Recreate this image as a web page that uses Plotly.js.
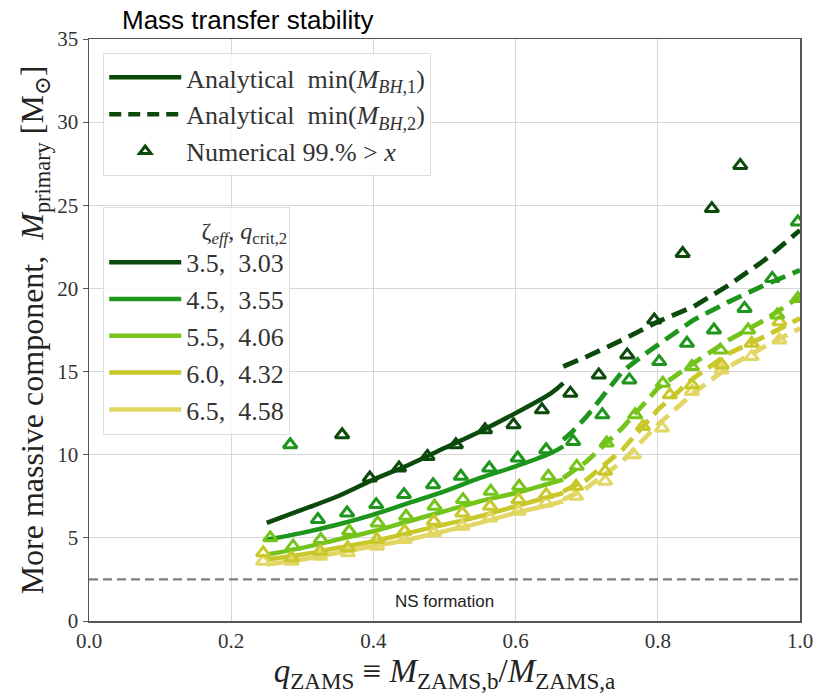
<!DOCTYPE html>
<html>
<head>
<meta charset="utf-8">
<script src="https://cdn.plot.ly/plotly-3.0.1.min.js"></script>
<style>html,body{margin:0;padding:0;background:#fff;}#chart{width:819px;height:694px;}</style>
</head>
<body>
<div id="chart"></div>
<script>
// ---- data ----
const seriesLabels = ["3.5,  3.03", "4.5,  3.55", "5.5,  4.06", "6.0,  4.32", "6.5,  4.58"];
const seriesColors = ["#0b4a0b", "#1e961e", "#74c41c", "#c8c82a", "#e2d664"];

// analytical min(M_BH,1) (solid)
const solidQ = [0.25, 0.30, 0.35, 0.40, 0.45, 0.50, 0.55, 0.60, 0.65, 0.667];
const solidM = [
  [5.9, 6.7, 7.5, 8.5, 9.4, 10.4, 11.4, 12.5, 13.7, 14.3],
  [4.9, 5.3, 5.8, 6.4, 7.1, 7.8, 8.6, 9.3, 10.1, 10.5],
  [4.0, 4.4, 4.9, 5.4, 6.0, 6.6, 7.2, 7.7, 8.3, 8.5],
  [3.7, 4.0, 4.4, 4.8, 5.3, 5.8, 6.3, 6.9, 7.5, 7.7],
  [3.4, 3.7, 4.1, 4.5, 4.9, 5.4, 5.9, 6.5, 7.0, 7.2]
];

// analytical min(M_BH,2) (dashed)
const dashQ = [
  [0.667, 0.70, 0.75, 0.80, 0.85, 0.90, 0.95, 1.00],
  [0.667, 0.68, 0.70, 0.72, 0.75, 0.78, 0.80, 0.85, 0.90, 0.95, 1.00],
  [0.667, 0.70, 0.75, 0.80, 0.85, 0.90, 0.95, 1.00],
  [0.667, 0.70, 0.75, 0.80, 0.85, 0.90, 0.95, 1.00],
  [0.667, 0.70, 0.75, 0.80, 0.85, 0.90, 0.95, 1.00]
];
const dashM = [
  [15.3, 15.9, 16.9, 18.0, 18.9, 20.2, 21.7, 23.5],
  [10.9, 11.4, 12.3, 13.4, 15.0, 16.0, 16.6, 18.1, 19.2, 20.2, 21.1],
  [8.6, 9.6, 11.6, 14.0, 15.5, 16.9, 18.1, 19.5],
  [7.8, 8.5, 10.3, 12.7, 14.6, 16.1, 17.1, 18.2],
  [7.3, 8.0, 9.6, 11.8, 13.7, 15.3, 16.5, 17.6]
];

// numerical 99% > x (triangles)
const numQ = [
  [0.356, 0.395, 0.436, 0.476, 0.516, 0.557, 0.597, 0.637, 0.677, 0.717, 0.757, 0.795, 0.835, 0.876, 0.916],
  [0.283, 0.322, 0.363, 0.404, 0.443, 0.484, 0.523, 0.563, 0.603, 0.643, 0.681, 0.722, 0.760, 0.802, 0.841, 0.879, 0.922, 0.961, 0.997],
  [0.255, 0.287, 0.326, 0.366, 0.406, 0.446, 0.486, 0.526, 0.565, 0.605, 0.646, 0.686, 0.728, 0.768, 0.807, 0.848, 0.888, 0.927, 0.968, 0.997],
  [0.245, 0.285, 0.325, 0.364, 0.405, 0.444, 0.485, 0.525, 0.564, 0.604, 0.643, 0.685, 0.726, 0.779, 0.817, 0.848, 0.890, 0.932, 0.971],
  [0.245, 0.285, 0.325, 0.364, 0.405, 0.444, 0.485, 0.525, 0.564, 0.604, 0.643, 0.685, 0.726, 0.766, 0.806, 0.848, 0.890, 0.932, 0.971]
];
const numM = [
  [11.2, 8.6, 9.2, 9.9, 10.6, 11.5, 11.8, 12.7, 13.7, 14.8, 16.0, 18.1, 22.1, 24.8, 27.4],
  [10.6, 6.1, 6.5, 7.0, 7.6, 8.2, 8.7, 9.2, 9.8, 10.3, 10.8, 12.4, 14.5, 15.6, 16.7, 17.5, 18.8, 20.6, 24.0],
  [5.0, 4.5, 4.9, 5.4, 5.9, 6.3, 6.9, 7.3, 7.8, 8.1, 8.7, 9.3, 10.7, 12.4, 14.3, 15.3, 16.3, 17.5, 18.4, 19.4],
  [4.1, 3.8, 4.2, 4.4, 4.9, 5.4, 6.0, 6.5, 6.9, 7.3, 7.6, 8.1, 9.0, 11.7, 13.6, 14.2, 15.4, 16.7, 18.0],
  [3.6, 3.6, 3.9, 4.1, 4.5, 4.9, 5.3, 5.7, 6.2, 6.6, 7.1, 7.5, 8.4, 10.0, 11.6, 13.8, 15.1, 15.9, 16.9]
];

const nsMass = 2.5;
const nsLabel = "NS formation";
const xTicks = [0, 0.2, 0.4, 0.6, 0.8, 1.0];
const xTickText = ["0.0", "0.2", "0.4", "0.6", "0.8", "1.0"];
const yTicks = [0, 5, 10, 15, 20, 25, 30, 35];

// ---- build traces ----
const serif = "Liberation Serif, DejaVu Serif, serif";
const sans = "Liberation Sans, Arial, sans-serif";
const dashPattern = "16px,8px";
const traces = [];

// NS line
traces.push({x: [0, 1], y: [nsMass, nsMass], mode: "lines", line: {color: "#808080", width: 2.2, dash: "9px,5px"},
  showlegend: false, hoverinfo: "skip"});

for (let i = 0; i < seriesLabels.length; i++) {
  traces.push({x: solidQ, y: solidM[i], mode: "lines", line: {color: seriesColors[i], width: 4.5, shape: "spline"},
    name: seriesLabels[i], legend: "legend2", legendgroup: "g" + i, showlegend: true});
}
for (let i = seriesLabels.length - 1; i >= 0; i--) {
  traces.push({x: dashQ[i], y: dashM[i], mode: "lines", line: {color: seriesColors[i], width: 4.8, dash: dashPattern},
    showlegend: false});
}
for (let i = seriesLabels.length - 1; i >= 0; i--) {
  traces.push({x: numQ[i], y: numM[i], mode: "markers",
    marker: {symbol: "triangle-up-open", size: 12, color: seriesColors[i], line: {width: 3, color: seriesColors[i]}},
    showlegend: false});
}

// legend 1 entries
traces.push({x: [null], y: [null], mode: "lines", line: {color: seriesColors[0], width: 4.5},
  name: "Analytical  min(<i>M</i><sub><i>BH</i>,1</sub>)", legend: "legend", legendgroup: "a1"});
traces.push({x: [null], y: [null], mode: "lines", line: {color: seriesColors[0], width: 4.5, dash: "12px,7px"},
  name: "Analytical  min(<i>M</i><sub><i>BH</i>,2</sub>)", legend: "legend", legendgroup: "a2"});
traces.push({x: [null], y: [null], mode: "markers",
  marker: {symbol: "triangle-up-open", size: 10, color: seriesColors[0], line: {width: 3, color: seriesColors[0]}},
  name: "Numerical 99.% > <i>x</i>", legend: "legend", legendgroup: "a3"});

const layout = {
  width: 819, height: 694,
  margin: {l: 89, r: 19, t: 39, b: 73},
  paper_bgcolor: "#fff", plot_bgcolor: "#fff",
  title: {text: "Mass transfer stability", font: {family: sans, size: 26, color: "#000"},
    x: 122 / 819, xanchor: "left", xref: "container", y: 1 - 20 / 694, yanchor: "middle", yref: "container"},
  xaxis: {range: [0, 1], tickvals: xTicks, ticktext: xTickText, showgrid: true, gridcolor: "#d6d6d6", gridwidth: 1,
    zeroline: false, showline: true, linecolor: "#555", linewidth: 1.5, mirror: true,
    ticks: "", tickcolor: "#555",
    tickfont: {family: serif, size: 21, color: "#333"},
    title: {text: "<i>q</i><sub>ZAMS</sub> ≡ <i>M</i><sub>ZAMS,b</sub>/<i>M</i><sub>ZAMS,a</sub>",
      font: {family: serif, size: 33, color: "#222"}, standoff: 10}},
  yaxis: {range: [0, 35], tickvals: yTicks, showgrid: true, gridcolor: "#d6d6d6", gridwidth: 1,
    zeroline: false, showline: true, linecolor: "#555", linewidth: 1.5, mirror: true,
    ticks: "outside", ticklen: 5, tickcolor: "#555",
    tickfont: {family: serif, size: 21, color: "#333"},
    title: {text: "More massive component,  <i>M</i><sub>primary</sub> [M<sub>⊙</sub>]",
      font: {family: serif, size: 32, color: "#222"}, standoff: 4}},
  legend: {x: 0.02, y: 0.976, xanchor: "left", yanchor: "top", bgcolor: "rgba(255,255,255,0.85)",
    bordercolor: "#dcdcdc", borderwidth: 1, font: {family: serif, size: 26, color: "#333"}, tracegroupgap: 10,
    traceorder: "normal", itemwidth: 72},
  legend2: {x: 0.02, y: 0.712, xanchor: "left", yanchor: "top", bgcolor: "rgba(255,255,255,0.85)",
    bordercolor: "#dcdcdc", borderwidth: 1, font: {family: serif, size: 26, color: "#333"}, tracegroupgap: 6,
    traceorder: "normal", itemwidth: 72,
    title: {text: "ζ<sub><i>eff</i></sub>, <i>q</i><sub>crit,2</sub>", side: "top right", font: {family: serif, size: 24, color: "#333"}}},
  annotations: [{x: 0.5, y: 1.2, xref: "x", yref: "y", text: nsLabel, showarrow: false,
    font: {family: sans, size: 17, color: "#222"}}]
};

Plotly.newPlot("chart", traces, layout, {displayModeBar: false, staticPlot: true});
</script>
</body>
</html>
